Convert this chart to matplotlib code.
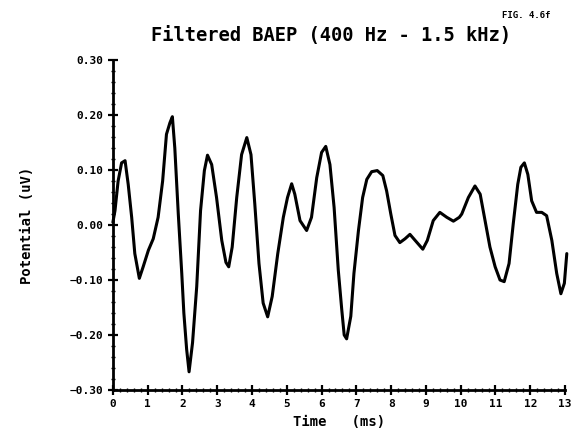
import matplotlib
matplotlib.use("Agg")
import matplotlib.pyplot as plt
from matplotlib.ticker import MultipleLocator

# values (time in ms, potential in uV)
time_ms = [0.00, 0.06, 0.15, 0.25, 0.35, 0.44, 0.54, 0.63, 0.76, 0.87,
           1.02, 1.16, 1.30, 1.43, 1.54, 1.64, 1.71, 1.78, 1.88, 1.98,
           2.04, 2.12, 2.19, 2.29, 2.41, 2.52, 2.63, 2.72, 2.84, 2.98,
           3.13, 3.25, 3.33, 3.43, 3.56, 3.70, 3.85, 3.97, 4.08, 4.20,
           4.32, 4.45, 4.58, 4.74, 4.90, 5.02, 5.14, 5.23, 5.38, 5.57,
           5.71, 5.86, 6.00, 6.12, 6.24, 6.36, 6.48, 6.58, 6.65, 6.72,
           6.84, 6.93, 7.06, 7.18, 7.30, 7.44, 7.60, 7.76, 7.87, 7.99,
           8.11, 8.25, 8.40, 8.54, 8.69, 8.91, 9.04, 9.21, 9.40, 9.60,
           9.79, 9.96, 10.03, 10.22, 10.41, 10.56, 10.70, 10.84, 10.99, 11.13,
           11.25, 11.39, 11.51, 11.64, 11.73, 11.83, 11.93, 12.04, 12.18, 12.33,
           12.47, 12.62, 12.76, 12.88, 12.98, 13.05]
potential = [0.005, 0.026, 0.080, 0.113, 0.117, 0.074, 0.014, -0.052, -0.097, -0.076,
             -0.046, -0.025, 0.014, 0.080, 0.165, 0.186, 0.197, 0.140, 0.020, -0.088,
             -0.160, -0.226, -0.267, -0.214, -0.112, 0.026, 0.099, 0.127, 0.110, 0.050,
             -0.028, -0.068, -0.076, -0.040, 0.050, 0.128, 0.159, 0.128, 0.038, -0.070,
             -0.142, -0.167, -0.130, -0.052, 0.014, 0.050, 0.075, 0.056, 0.008, -0.010,
             0.014, 0.086, 0.132, 0.143, 0.110, 0.032, -0.082, -0.154, -0.200, -0.207,
             -0.166, -0.088, -0.010, 0.050, 0.083, 0.097, 0.099, 0.090, 0.062, 0.020,
             -0.019, -0.032, -0.025, -0.017, -0.028, -0.044, -0.028, 0.008, 0.023, 0.014,
             0.007, 0.014, 0.020, 0.050, 0.071, 0.056, 0.008, -0.040, -0.076, -0.100,
             -0.103, -0.070, 0.002, 0.074, 0.105, 0.113, 0.092, 0.044, 0.023, 0.023,
             0.017, -0.028, -0.088, -0.125, -0.106, -0.052]

x_ticks = list(range(0, 14))
y_ticks = [-0.30, -0.20, -0.10, 0.00, 0.10, 0.20, 0.30]

plt.rcParams["font.family"] = "DejaVu Sans Mono"
plt.rcParams["font.weight"] = "bold"

fig = plt.figure(figsize=(5.76, 4.29), dpi=100)
ax = fig.add_axes([0.196, 0.091, 0.785, 0.769])

ax.plot(time_ms, potential, color="black", linewidth=2.2, clip_on=False,
        solid_joinstyle="round", solid_capstyle="round")

ax.set_xlim(0, 13)
ax.set_ylim(-0.30, 0.30)
ax.set_xticks(x_ticks)
ax.set_yticks(y_ticks)
ax.set_yticklabels(["%.2f" % v if v >= 0 else "\u2212%.2f" % -v for v in y_ticks])
ax.xaxis.set_minor_locator(MultipleLocator(0.2))
ax.yaxis.set_minor_locator(MultipleLocator(0.02))

for side in ["top", "right"]:
    ax.spines[side].set_visible(False)
for side in ["left", "bottom"]:
    ax.spines[side].set_linewidth(2.0)

ax.tick_params(which="major", direction="inout", length=7, width=1.6,
               labelsize=8, pad=3)
ax.tick_params(which="minor", direction="inout", length=3, width=1.0)

ax.set_xlabel("Time   (ms)", fontsize=10, fontweight="bold", labelpad=4)
ax.set_ylabel("Potential (uV)", fontsize=10, fontweight="bold", labelpad=26)

fig.text(0.575, 0.918, "Filtered BAEP (400 Hz - 1.5 kHz)", ha="center",
         va="center", fontsize=13.5, fontweight="bold")
fig.text(0.955, 0.963, "FIG. 4.6f", ha="right", va="center", fontsize=6.5,
         fontweight="bold")

plt.savefig("out.png", dpi=100)
plt.close()
